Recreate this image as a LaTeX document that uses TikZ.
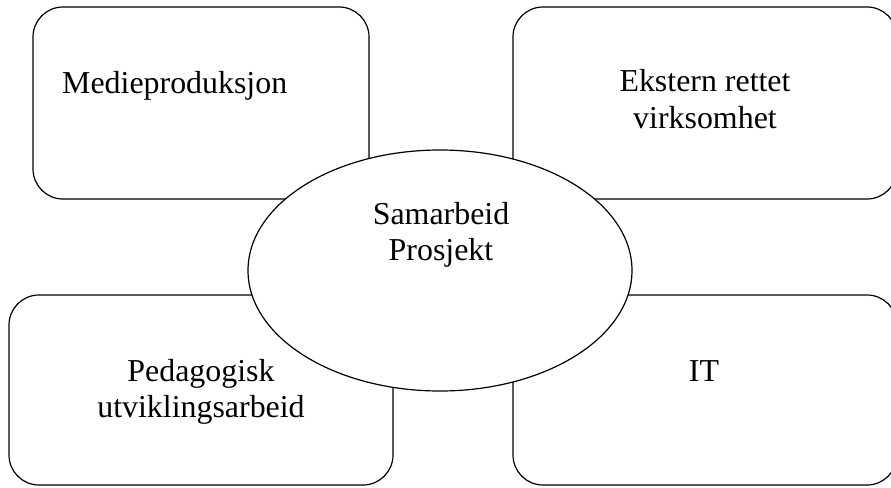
\documentclass[tikz,border=0pt]{standalone}
\usepackage{fontspec}
\setmainfont{Liberation Serif}
\usetikzlibrary{shapes.geometric}

\tikzset{
  areabox/.style={draw, line width=1.2pt, rectangle, rounded corners=30pt,
    inner sep=0pt, fill=white},
  hub/.style={draw, line width=1.2pt, ellipse, inner sep=0pt, fill=white,
    minimum width=384pt, minimum height=241pt},
  % base anchor of a multi-line label sits on its last line
  label/.style={inner sep=0pt, align=center, anchor=base,
    font=\fontsize{31.9}{36}\selectfont},
}

\begin{document}
\begin{tikzpicture}[x=1pt, y=-1pt]
  \useasboundingbox (0,0) rectangle (891,487);
  \clip (0,0) rectangle (891,487);

  % four work areas
  \node[areabox, minimum width=336pt, minimum height=192pt] (media) at (201,103) {};
  \node[areabox, minimum width=384pt, minimum height=192pt] (ext)   at (705,103) {};
  \node[areabox, minimum width=384pt, minimum height=190pt] (ped)   at (201,390) {};
  \node[areabox, minimum width=384pt, minimum height=190pt] (it)    at (705,390) {};

  % shared project in the middle, on top of the boxes
  \node[hub] (hubshape) at (440,270.5) {};

  % labels
  \node[label, anchor=base west] (mediatext) at (62,93) {Medieproduksjon};
  \node[label] (exttext) at (705,128) {Ekstern rettet\\virksomhet};
  \node[label] (hubtext) at (441,260) {Samarbeid\\Prosjekt};
  \node[label] (pedtext) at (201,417) {Pedagogisk\\utviklingsarbeid};
  \node[label] (ittext)  at (704,381) {IT};
\end{tikzpicture}
\end{document}
